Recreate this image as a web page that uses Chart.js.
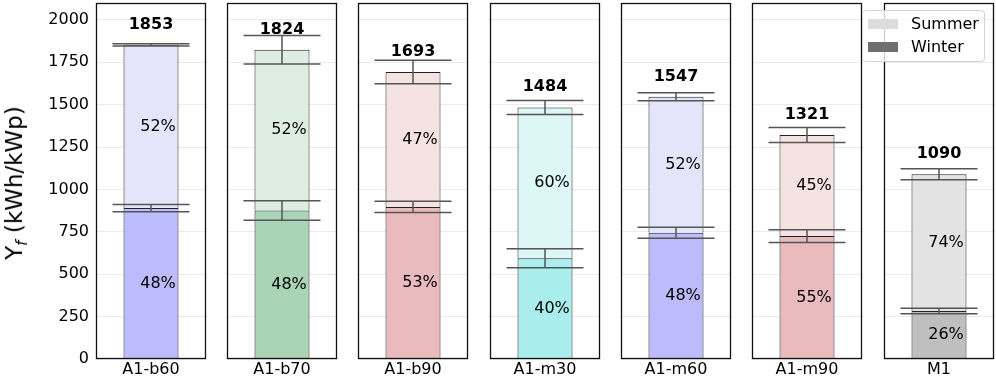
<!DOCTYPE html>
<html>
<head>
<meta charset="utf-8">
<script src="https://cdn.jsdelivr.net/npm/chart.js@4.4.0/dist/chart.umd.min.js"></script>
<style>
  body { margin: 0; background: #fff; width: 996px; height: 379px; position: relative; overflow: hidden; font-family: "DejaVu Sans", sans-serif; }
  .panel { position: absolute; top: 0; height: 379px; }
  #ylabel { position: absolute; left: 16px; top: 183px; transform: translate(-50%, -50%) rotate(-90deg); font-size: 23px; white-space: nowrap; color: #000; z-index: 2; }
  #ylabel sub { font-size: 15px; vertical-align: -5px; }
  #legend { position: absolute; left: 862px; top: 10px; width: 123px; height: 52px; box-sizing: border-box; border: 1px solid #d3d3d3; border-radius: 4px; background: rgba(255,255,255,0.8); z-index: 3; font-size: 16px; color: #000; }
  #legend .item { position: absolute; left: 48px; height: 20px; line-height: 20px; }
  #legend .sw { position: absolute; left: -43px; top: 5px; width: 30px; height: 10px; }
</style>
</head>
<body>
<div id="ylabel">Y<sub><i>f</i></sub> (kWh/kWp)</div>
<div id="legend">
  <div class="item" style="top:3px"><span class="sw" style="background:#dcdcdc"></span>Summer</div>
  <div class="item" style="top:26px"><span class="sw" style="background:#6e6e6e"></span>Winter</div>
</div>
<script>
const categories = ["A1-b60", "A1-b70", "A1-b90", "A1-m30", "A1-m60", "A1-m90", "M1"];
const winter = [890, 876, 897, 594, 745, 725, 283];
const summer = [963, 948, 796, 890, 802, 596, 807];
const totals = [1853, 1824, 1693, 1484, 1547, 1321, 1090];
const winterErr = [21, 58, 33, 56, 32, 38, 16];
const totalErr = [6, 84, 70, 41, 23, 44, 32];
const winterPct = [48, 48, 53, 40, 48, 55, 26];
const summerPct = [52, 52, 47, 60, 52, 45, 74];

const winterColors = ["#bcbcfc", "#a9d4b5", "#e9bbbd", "#a9eded", "#bcbcfc", "#e9bbbd", "#bfbfbf"];
const summerColors = ["#e4e4fa", "#ddede2", "#f5e3e3", "#ddf7f7", "#e4e4fa", "#f5e3e3", "#e3e3e3"];

const panelLeft = [96, 227, 358, 490, 621, 752, 884];
const panelWidth = 110;
const font = "'DejaVu Sans', sans-serif";

const panelPlugin = (i) => ({
  id: "panel" + i,
  afterDatasetsDraw(chart) {
    const { ctx, chartArea: a } = chart;
    const y = chart.scales.y;
    const bar = chart.getDatasetMeta(0).data[0];
    const x = bar.x;
    const half = bar.width * 0.7;
    const tops = [[winter[i], winterErr[i]], [winter[i] + summer[i], totalErr[i]]];
    ctx.save();
    ctx.strokeStyle = "#555";
    ctx.lineWidth = 1.5;
    tops.forEach(([v, e]) => {
      const y1 = y.getPixelForValue(v + e);
      const y2 = y.getPixelForValue(v - e);
      ctx.beginPath();
      ctx.moveTo(x, y1);
      ctx.lineTo(x, y2);
      ctx.moveTo(x - half, y1);
      ctx.lineTo(x + half, y1);
      ctx.moveTo(x - half, y2);
      ctx.lineTo(x + half, y2);
      ctx.stroke();
    });

    ctx.fillStyle = "#000";
    ctx.textAlign = "center";
    ctx.textBaseline = "middle";
    ctx.font = "16px " + font;
    ctx.fillText(winterPct[i] + "%", x + 7, y.getPixelForValue(winter[i] / 2));
    ctx.fillText(summerPct[i] + "%", x + 7, y.getPixelForValue(winter[i] + summer[i] / 2));
    ctx.font = "bold 16px " + font;
    ctx.fillText(totals[i], x, y.getPixelForValue(winter[i] + summer[i] + 120));

    // frame around each subplot
    ctx.strokeStyle = "#111";
    ctx.lineWidth = 1.3;
    ctx.strokeRect(Math.round(a.left) + 0.5, Math.round(a.top) + 0.5, Math.round(a.width) - 1, Math.round(a.height) - 1);
    ctx.restore();
  }
});

categories.forEach((name, i) => {
  const first = i === 0;
  const wrap = document.createElement("div");
  wrap.className = "panel";
  const left = first ? 0 : panelLeft[i] - 2;
  const width = first ? panelLeft[0] + panelWidth + 2 : panelWidth + 4;
  wrap.style.left = left + "px";
  wrap.style.width = width + "px";
  const canvas = document.createElement("canvas");
  wrap.appendChild(canvas);
  document.body.appendChild(wrap);

  new Chart(canvas, {
    type: "bar",
    data: {
      labels: [name],
      datasets: [
        { label: "Winter", data: [winter[i]], backgroundColor: winterColors[i], borderColor: "#222", borderWidth: 1, barPercentage: 0.5, categoryPercentage: 1 },
        { label: "Summer", data: [summer[i]], backgroundColor: summerColors[i], borderColor: "#222", borderWidth: 1, barPercentage: 0.5, categoryPercentage: 1 },
      ],
    },
    options: {
      responsive: true,
      maintainAspectRatio: false,
      animation: false,
      layout: { padding: { top: 3, left: first ? 0 : 2, right: 2, bottom: 0 } },
      plugins: { legend: { display: false }, tooltip: { enabled: false } },
      scales: {
        x: {
          stacked: true,
          grid: { display: false, drawTicks: false },
          border: { display: false },
          ticks: { color: "#000", font: { size: 16, family: font }, padding: 1 },
          afterFit: (s) => { s.height = 20; s.paddingLeft = 0; s.paddingRight = 0; },
        },
        y: {
          stacked: true,
          min: 0,
          max: 2100,
          grid: { color: "#ebebeb", lineWidth: 1, drawTicks: false },
          border: { display: false },
          ticks: {
            display: first,
            stepSize: 250,
            includeBounds: false,
            color: "#000",
            font: { size: 16, family: font },
            padding: 7,
            callback: (v) => String(v),
          },
          afterBuildTicks: (s) => { s.ticks = s.ticks.filter((t) => t.value <= 2000); },
          afterFit: (s) => { s.width = first ? 96 : 0; s.paddingTop = 0; s.paddingBottom = 0; },
        },
      },
    },
    plugins: [panelPlugin(i)],
  });
});
</script>
</body>
</html>
